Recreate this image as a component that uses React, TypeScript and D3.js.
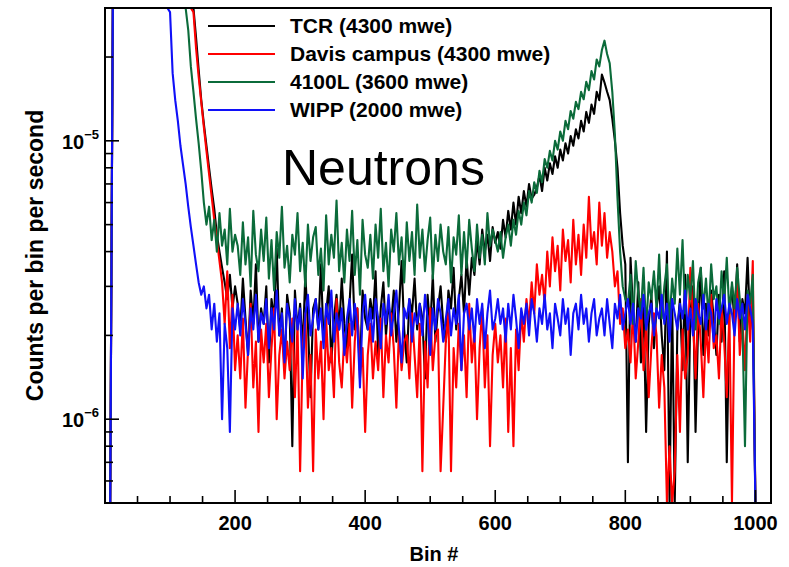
import React from 'react';
import * as d3 from 'd3';

// Bin numbers (every 4th bin of the 1024-channel spectrum)
const bins: number[] = d3.range(8, 1001, 4);

// Values in units of 1e-7 counts per bin per second (0 = empty bin)
const tcr: number[] = [
  0,
  400,400,400,400,400,400,400,400,400,400,400,400,400,400,400,400,
  400,400,400,400,400,400,400,400,400,400,400,400,400,400,400,400,
  235,180,140,115,96,80,67,57,46,40,35,31,27,33,25,30,
  26,21,32,23,17,29,22,36,19,25,
  22,30,16,27,23,41,20,25,15,28,
  24,8,29,21,26,18,33,22,12,25,
  27,21,36,19,24,30,16,23,28,21,
  32,22,18,26,39,21,25,15,29,23,
  21,27,23,34,17,25,31,20,26,22,
  29,19,25,37,21,16,27,24,32,21,
  26,23,14,28,21,33,19,25,30,22,
  19,29,25,35,21,27,33,24,38,28,
  38,33,44,36,48,40,46,37,49,43,
  47,41,52,45,56,48,60,50,63,55,
  66,58,70,62,64,68,75,66,80,72,
  83,76,88,80,93,85,98,90,104,96,
  110,102,118,108,127,116,135,125,150,140,
  173,162,150,140,120,100,80,55,42,36,
  7,38,24,19,31,16,26,9,22,28,
  18,25,30,20,15,40,0,27,0,21,
  27,15,33,7,24,30,9,22,35,17,
  26,20,29,23,17,28,19,34,7,24,
  30,22,36,19,27,24,38,21,26,
  0,
];

const davis: number[] = [
  0,
  400,400,400,400,400,400,400,400,400,400,400,400,400,400,400,400,
  400,400,400,400,400,400,400,400,400,400,400,400,400,400,400,
  290,215,170,138,112,92,76,63,52,44,37,31,22,34,18,28,15,
  20,14,23,11,18,26,13,19,9,21,
  16,22,12,18,25,10,17,21,14,19,
  15,23,12,22,6.5,18,24,11,17,6.5,
  21,14,19,10,23,15,18,12,27,16,
  13,20,16,22,11,19,25,14,18,9,
  17,22,14,19,15,23,12,20,16,24,
  18,11,21,15,19,20,14,24,17,12,
  22,6.5,19,13,25,15,20,21,6.5,11,
  19,24,6.5,18,13,22,15,20,12,26,
  16,21,10,18,25,13,20,8,17,22,
  16,20,13,23,9,18,8,21,15,24,
  19,27,22,31,24,36,28,33,26,40,
  30,45,34,42,29,48,37,44,31,52,
  36,46,33,50,38,63,41,47,36,60,
  42,55,38,47,40,30,34,22,25,18,
  21,16,25,14,19,27,15,22,12,18,
  24,20,11,17,13,0,8,0,6.5,17,
  9,21,14,17,35,23,14,26,19,12,
  22,16,28,18,20,14,25,19,12,24,
  0,25,33,17,23,15,28,19,37,
  0,
];

const l4100: number[] = [
  0,
  400,400,400,400,400,400,400,400,400,400,400,400,400,400,400,
  400,400,400,400,400,400,400,400,400,400,400,400,400,400,
  250,185,150,120,98,78,60,50,58,44,52,40,55,42,48,36,57,40,46,
  42,33,51,36,45,30,56,39,34,48,
  37,53,32,44,29,47,38,58,35,42,
  31,46,39,55,34,43,30,50,37,45,
  49,33,41,29,54,36,46,38,61,34,
  43,31,48,37,56,33,44,28,52,39,
  35,46,32,50,38,57,34,43,30,48,
  40,55,36,45,31,51,37,47,33,59,
  38,48,34,44,53,32,46,37,50,40,
  36,49,31,45,39,54,33,47,35,52,
  41,34,50,38,46,36,55,42,48,44,
  40,47,38,45,50,42,52,46,56,50,
  60,54,66,60,71,65,78,71,86,80,
  92,85,100,93,108,100,118,110,128,120,
  138,130,150,141,163,152,178,166,196,185,
  212,229,205,190,150,105,62,40,30,27,
  26,33,22,37,28,24,35,21,31,27,
  34,25,39,23,30,36,22,32,26,41,
  28,44,24,33,27,37,21,31,35,25,
  32,23,36,27,30,22,34,26,38,24,
  31,25,35,27,22,8,29,26,33,
  0,
];

const wipp: number[] = [
  0,
  400,400,400,400,400,400,400,400,400,400,400,
  400,400,400,400,400,400,400,400,400,400,400,
  290,
  175,140,118,96,82,70,58,49,42,36,31,28,
  30,25,28,21,26,19,24,10,22,18,9,25,21,
  26,20,27,22,17,25,21,28,19,24,
  22,27,18,25,21,29,20,24,16,26,
  23,19,27,21,25,14,24,28,20,23,
  27,21,25,18,26,22,29,19,24,21,
  25,17,23,27,20,26,22,13,24,28,
  21,25,19,27,23,18,26,22,28,20,
  24,29,21,16,25,23,27,19,24,22,
  26,20,28,23,17,25,21,27,24,19,
  23,27,20,25,22,28,15,24,26,21,
  25,19,27,22,26,18,24,29,21,23,
  27,22,25,19,26,21,28,23,18,25,
  22,26,20,27,24,19,25,22,28,21,
  24,18,26,23,20,27,22,25,17,24,
  26,21,28,22,25,19,24,27,20,23,
  25,20,27,22,18,26,23,28,21,24,
  27,22,26,19,25,23,28,21,24,26,
  20,25,23,28,22,26,19,27,24,21,
  26,23,29,21,25,20,27,24,22,28,
  21,26,24,19,27,23,25,28,22,26,
  24,20,27,23,26,21,28,25,22,
  0,
];

const seriesNames = ['TCR (4300 mwe)', 'Davis campus (4300 mwe)', '4100L (3600 mwe)', 'WIPP (2000 mwe)'];
const seriesColors = ['#000000', '#ff0000', '#0b6b3a', '#1010f8'];
const seriesValues = [tcr, davis, l4100, wipp];

const xMajorTicks = [200, 400, 600, 800, 1000];
const xMinorTicks = [50, 100, 150, 250, 300, 350, 450, 500, 550, 650, 700, 750, 850, 900, 950];
const yMajorTicks = [1e-6, 1e-5];
const yMajorExp = ['\u22126', '\u22125'];
const yMinorTicks = [6e-7, 7e-7, 8e-7, 9e-7, 2e-6, 3e-6, 4e-6, 5e-6, 6e-6, 7e-6, 8e-6, 9e-6, 2e-5];

export default function App() {
  const W = 789, H = 567;
  const L = 105, R = 771, T = 8, B = 503;
  const x = d3.scaleLinear().domain([0, 1024]).range([L, R]);
  const y = d3.scaleLog().domain([5e-7, 3e-5]).range([B, T]).clamp(true);
  const line = d3
    .line<number>()
    .x((_, i) => x(bins[i]))
    .y((v) => y(Math.min(Math.max(v * 1e-7, 5e-7), 3e-5)));
  const font = 'Liberation Sans, Arial, Helvetica, sans-serif';

  return (
    <svg
      width={W}
      height={H}
      viewBox={`0 0 ${W} ${H}`}
      style={{ position: 'absolute', left: 0, top: 0, background: '#fff' }}
      fontFamily={font}
    >
      <rect x={0} y={0} width={W} height={H} fill="#fff" />
      {seriesValues.map((vals, k) => (
        <path
          key={k}
          d={line(vals) || ''}
          fill="none"
          stroke={seriesColors[k]}
          strokeWidth={2.1}
          strokeLinejoin="round"
        />
      ))}
      <rect x={L} y={T} width={R - L} height={B - T} fill="none" stroke="#000" strokeWidth={2} />
      {xMajorTicks.map((t) => (
        <g key={'xM' + t}>
          <line x1={x(t)} x2={x(t)} y1={B} y2={B - 13} stroke="#000" strokeWidth={1.6} />
          <text x={x(t)} y={B + 27} textAnchor="middle" fontSize={20} fontWeight="bold">
            {t}
          </text>
        </g>
      ))}
      {xMinorTicks.map((t) => (
        <line key={'xm' + t} x1={x(t)} x2={x(t)} y1={B} y2={B - 7} stroke="#000" strokeWidth={1.6} />
      ))}
      {yMajorTicks.map((t, i) => (
        <g key={'yM' + t}>
          <line x1={L} x2={L + 14} y1={y(t)} y2={y(t)} stroke="#000" strokeWidth={1.6} />
          <text x={99} y={y(t) + 8} textAnchor="end" fontSize={20} fontWeight="bold">
            10
            <tspan dy={-10} fontSize={13}>
              {yMajorExp[i]}
            </tspan>
          </text>
        </g>
      ))}
      {yMinorTicks.map((t) => (
        <line key={'ym' + t} x1={L} x2={L + 8} y1={y(t)} y2={y(t)} stroke="#000" strokeWidth={1.6} />
      ))}
      <text x={(L + R) / 2 - 4} y={561} textAnchor="middle" fontSize={20} fontWeight="bold">
        Bin #
      </text>
      <text
        transform={`translate(43, ${(T + B) / 2}) rotate(-90)`}
        textAnchor="middle"
        fontSize={23}
        fontWeight="bold"
      >
        Counts per bin per second
      </text>
      <text x={282} y={185} fontSize={50}>
        Neutrons
      </text>
      {seriesNames.map((name, k) => (
        <g key={'lg' + k}>
          <line
            x1={208}
            x2={275}
            y1={26 + k * 28}
            y2={26 + k * 28}
            stroke={seriesColors[k]}
            strokeWidth={2}
          />
          <text x={290} y={26 + k * 28 + 7} fontSize={21} fontWeight="bold">
            {name}
          </text>
        </g>
      ))}
    </svg>
  );
}
